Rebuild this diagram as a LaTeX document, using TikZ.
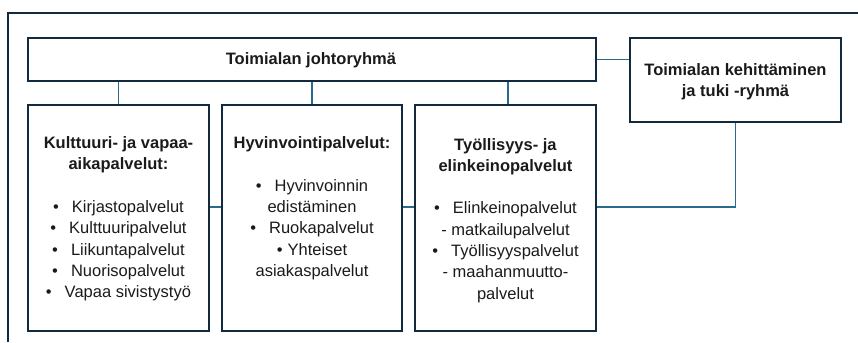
\documentclass[tikz,border=0pt]{standalone}
\usepackage{fontspec}
\setmainfont{Liberation Sans}
\definecolor{frame}{HTML}{13293D}
\definecolor{conn}{HTML}{2B6A8F}
\definecolor{ink}{HTML}{1A1A1A}
\newcommand{\bul}[1]{\textbullet\hspace{13bp}#1}
\tikzset{
  boxnode/.style={draw=frame, line width=1.4bp, rectangle, inner sep=0pt},
  connline/.style={draw=conn, line width=1.3bp},
  txt/.style={text=ink, inner sep=0pt, font=\fontsize{16.5bp}{21.3bp}\selectfont},
}
\newcommand{\boxtext}[1]{\parbox[t]{175bp}{\centering\fontsize{16.5bp}{21.3bp}\selectfont #1}}
\begin{document}
\begin{tikzpicture}[x=1bp,y=-1bp]
\useasboundingbox (0,0) rectangle (858,342);
% outer frame
\draw[frame, line width=1.3bp] (8,342) -- (8,13) -- (858,13);
% boxes
\node[boxnode, minimum width=568bp, minimum height=43bp] (top) at (312,59.5) {};
\node[boxnode, minimum width=211bp, minimum height=84bp] (right) at (735.5,80) {};
\node[boxnode, minimum width=181bp, minimum height=226bp] (b1) at (118.5,218) {};
\node[boxnode, minimum width=180bp, minimum height=226bp] (b2) at (312,218) {};
\node[boxnode, minimum width=181bp, minimum height=226bp] (b3) at (505.5,218) {};
% connectors
\draw[connline] (b1.north) -- (b1.north |- top.south);
\draw[connline] (b2.north) -- (b2.north |- top.south);
\draw[connline] ([xshift=2.5bp]b3.north) -- ([xshift=2.5bp]b3.north |- top.south);
\draw[connline] (top.east) -- (top.east -| right.west);
\draw[connline] (right.south) |- ([yshift=11bp]b3.east);
\draw[connline] ([yshift=11bp]b1.east) -- ([yshift=11bp]b2.west);
\draw[connline] ([yshift=11bp]b2.east) -- ([yshift=11bp]b3.west);
% texts
\node[txt] (ttop) at (311,60) {\textbf{Toimialan johtoryhmä}};
\node[txt, align=center] (tright) at (735.5,81.5) {\textbf{Toimialan kehittäminen}\\\textbf{ja tuki -ryhmä}};
\node[txt, anchor=base] (t1) at (118.5,148.5) {\boxtext{\textbf{Kulttuuri- ja vapaa-}\\\textbf{aikapalvelut:}\\[21.3bp]
\bul{Kirjastopalvelut}\\\bul{Kulttuuripalvelut}\\\bul{Liikuntapalvelut}\\\bul{Nuorisopalvelut}\\\bul{Vapaa sivistystyö}}};
\node[txt, anchor=base] (t2) at (312,148.5) {\boxtext{\textbf{Hyvinvointipalvelut:}\\[21.3bp]
\bul{Hyvinvoinnin}\\edistäminen\\\bul{Ruokapalvelut}\\\textbullet\hspace{5bp}Yhteiset\\asiakaspalvelut}};
\node[txt, anchor=base] (t3) at (505.5,150) {\boxtext{\textbf{Työllisyys- ja}\\\textbf{elinkeinopalvelut}\\[21.3bp]
\bul{Elinkeinopalvelut}\\- matkailupalvelut\\\bul{Työllisyyspalvelut}\\- maahanmuutto-\\palvelut}};
\end{tikzpicture}
\end{document}
